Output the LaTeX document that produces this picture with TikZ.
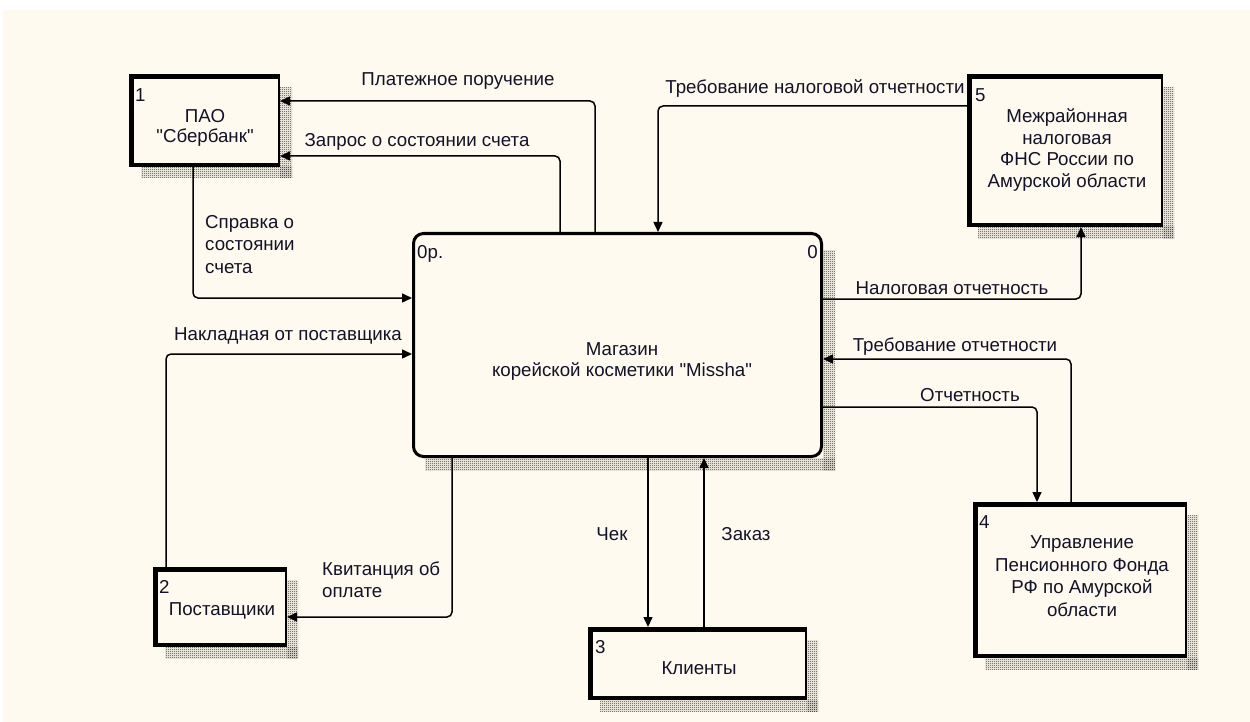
\documentclass[tikz,border=0pt]{standalone}
\usepackage{fontspec}
\setmainfont{Liberation Sans}
\usetikzlibrary{arrows.meta,patterns}
\definecolor{cream}{RGB}{255,250,239}
\definecolor{ink}{RGB}{18,18,40}
\pgfdeclarepatternformonly{checker}{\pgfqpoint{0pt}{0pt}}{\pgfqpoint{2pt}{2pt}}{\pgfqpoint{2pt}{2pt}}{%
  \pgfpathrectangle{\pgfqpoint{0pt}{0pt}}{\pgfqpoint{1pt}{1pt}}%
  \pgfpathrectangle{\pgfqpoint{1pt}{1pt}}{\pgfqpoint{1pt}{1pt}}%
  \pgfusepath{fill}}
\newcommand{\dq}{\XeTeXglyph\XeTeXcharglyph"22\relax}
\begin{document}
\begin{tikzpicture}[x=1pt,y=-1pt,
  font=\fontsize{18.7}{21}\selectfont,
  every node/.style={text=ink, inner sep=0pt},
  conn/.style={line width=1.5pt, rounded corners=5pt, -{Triangle[length=10pt,width=9pt]}},
  ext/.style={draw, line width=2pt, fill=cream, inner sep=0pt},
  proc/.style={draw, line width=3pt, fill=cream, rounded corners=10pt, inner sep=0pt},
  shade/.style={pattern=checker, pattern color=black!80},
  lbl/.style={anchor=base},
]
\useasboundingbox (0,0) rectangle (1250,722);
\fill[white] (0,0) rectangle (1250,722);
\fill[cream] (3,10) rectangle (1250,722);

% ---------- shadows ----------
\fill[shade] (280,88) rectangle (292,178);
\fill[shade] (141,167) rectangle (292,178);
\fill[shade] (1163,88) rectangle (1174,238);
\fill[shade] (978,227) rectangle (1174,238);
\fill[shade] (823,250) rectangle (835,470);
\fill[shade] (425,458) rectangle (835,470);
\fill[shade] (287,580) rectangle (298,658);
\fill[shade] (165,647) rectangle (298,658);
\fill[shade] (807,640) rectangle (818,711);
\fill[shade] (600,700) rectangle (818,711);
\fill[shade] (1187,515) rectangle (1198,669);
\fill[shade] (985,658) rectangle (1198,669);

% ---------- boxes ----------
\node[ext, minimum width=149, minimum height=91] (b1) at (204.5,120.5) {};
\draw[line width=5pt] (131.5,167) -- (131.5,74);
\draw[line width=5pt] (129,76.5) -- (280,76.5);
\draw[line width=4pt] (129,165) -- (280,165);
\node[anchor=north west] (n1) at (135,88) {1};
\node[align=center, font=\fontsize{18.7}{20.5}\selectfont] (t1) at (205,128) {ПАО\\\dq Сбербанк\dq};

\node[ext, minimum width=194, minimum height=151] (b5) at (1065,150.5) {};
\draw[line width=5pt] (969.5,227) -- (969.5,74);
\draw[line width=5pt] (967,76.5) -- (1163,76.5);
\draw[line width=4pt] (967,225) -- (1163,225);
\node[anchor=north west] (n5) at (975,88) {5};
\node[align=center, font=\fontsize{18.7}{21.5}\selectfont] (t5) at (1067,150) {Межрайонная\\налоговая\\ФНС России по\\Амурской области};

\node[proc, minimum width=408, minimum height=223] (c) at (617.5,345) {};
\node[anchor=north west] (c0p) at (417,245) {0р.};
\node[anchor=north east] (c0) at (818,245) {0};
\node[align=center] (ct) at (622,362) {Магазин\\корейской косметики \dq Missha\dq};

\node[ext, minimum width=132, minimum height=78] (b2) at (220,607) {};
\draw[line width=5pt] (155.5,647) -- (155.5,567);
\draw[line width=5pt] (153,569.5) -- (287,569.5);
\draw[line width=4pt] (153,645) -- (287,645);
\node[anchor=north west] (n2) at (159,580) {2};
\node[anchor=base] (t2) at (222,615) {Поставщики};

\node[ext, minimum width=217, minimum height=71] (b3) at (697.5,663.5) {};
\draw[line width=5pt] (590.5,700) -- (590.5,627);
\draw[line width=5pt] (588,629.5) -- (807,629.5);
\draw[line width=4pt] (588,698) -- (807,698);
\node[anchor=north west] (n3) at (595,640) {3};
\node[anchor=base] (t3) at (699,674) {Клиенты};

\node[ext, minimum width=212, minimum height=154] (b4) at (1080,580) {};
\draw[line width=5pt] (975.5,658) -- (975.5,502);
\draw[line width=5pt] (973,504.5) -- (1187,504.5);
\draw[line width=4pt] (973,656) -- (1187,656);
\node[anchor=north west] (n4) at (979,515) {4};
\node[align=center, font=\fontsize{18.7}{22.5}\selectfont] (t4) at (1082,576) {Управление\\Пенсионного Фонда\\РФ по Амурской\\области};

% ---------- connector bend points ----------
\coordinate (k1) at (595,101);
\coordinate (k2) at (560,156);
\coordinate (k3) at (193,298);
\coordinate (k4) at (166,354);
\coordinate (k5) at (452,617);
\coordinate (k6) at (648,0);
\coordinate (k7) at (704,0);
\coordinate (k8) at (658,106);
\coordinate (k9) at (1081,299);
\coordinate (k10) at (1071,359);
\coordinate (k11) at (1037,407);

\draw[conn] (c.north -| k1) |- (b1.east |- k1);
\draw[conn] (c.north -| k2) |- (b1.east |- k2);
\draw[conn] (b1.south -| k3) |- (c.west |- k3);
\draw[conn] (b2.north -| k4) |- (c.west |- k4);
\draw[conn] (c.south -| k5) |- (b2.east |- k5);
\draw[conn] (c.south -| k6) -- (b3.north -| k6);
\draw[conn] (b3.north -| k7) -- (c.south -| k7);
\draw[conn] (b5.west |- k8) -| (c.north -| k8);
\draw[conn] (c.east |- k9) -| (b5.south -| k9);
\draw[conn] (b4.north -| k10) |- (c.east |- k10);
\draw[conn] (c.east |- k11) -| (b4.north -| k11);

% ---------- labels ----------
\node[lbl] (l1) at (458,86) {Платежное поручение};
\node[lbl] (l2) at (417,146.5) {Запрос о состоянии счета};
\node[anchor=north west, align=left, font=\fontsize{18.7}{22.5}\selectfont] (l3) at (205,215) {Справка о\\состоянии\\счета};
\node[lbl] (l4) at (288,340) {Накладная от поставщика};
\node[anchor=north west, align=left, font=\fontsize{18.7}{22}\selectfont] (l5) at (322,562) {Квитанция об\\оплате};
\node[lbl] (l6) at (612,540) {Чек};
\node[lbl] (l7) at (746,540) {Заказ};
\node[lbl] (l8) at (815,94) {Требование налоговой отчетности};
\node[lbl] (l9) at (952,294) {Налоговая отчетность};
\node[lbl] (l10) at (955,351) {Требование отчетности};
\node[lbl] (l11) at (970,401) {Отчетность};
\end{tikzpicture}
\end{document}
